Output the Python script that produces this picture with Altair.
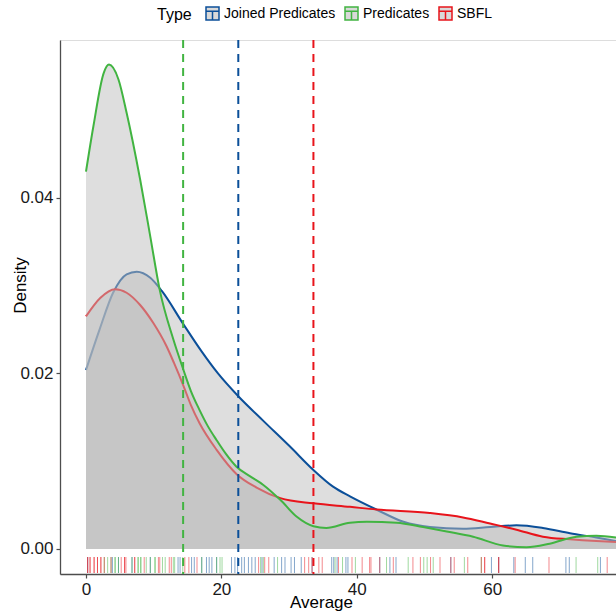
import altair as alt
import pandas as pd

types = ["Joined Predicates", "Predicates", "SBFL"]
colors = ["#0B4F99", "#41B441", "#E8141B"]

# density curves
joined_x = [0, 2, 4, 6, 7.5, 9.5, 11.2, 14.4, 17.0, 19.5, 22.5, 26.2, 30.1, 33.6, 36.5, 39, 42.9, 46.9, 50.8, 55.7, 59.7, 63.6, 67.5, 71.5, 75.4, 78.3]
joined_y = [0.0204, 0.0250, 0.0292, 0.0313, 0.0316, 0.0309, 0.0294, 0.0256, 0.0226, 0.0200, 0.0174, 0.0146, 0.0117, 0.0090, 0.0071, 0.0060, 0.0045, 0.0031, 0.0025, 0.0023, 0.0025, 0.0027, 0.0024, 0.0018, 0.0013, 0.0009]

pred_x = [0, 1.1, 2.6, 3.4, 4.8, 6.0, 8.0, 9.5, 10.9, 12.9, 14.4, 15.5, 16.8, 18.0, 19.3, 20.7, 22.2, 24.2, 26.2, 28.7, 31.1, 33.6, 35.5, 39, 41.5, 45.9, 49.8, 53.3, 57.2, 61.6, 65.1, 68.5, 72.5, 75.4, 78.3]
pred_y = [0.0430, 0.0482, 0.0542, 0.0552, 0.0535, 0.0497, 0.0421, 0.0356, 0.0295, 0.0239, 0.0204, 0.0180, 0.0158, 0.0140, 0.0124, 0.0108, 0.0094, 0.0083, 0.0073, 0.0056, 0.0037, 0.0026, 0.0024, 0.0030, 0.0031, 0.0030, 0.0025, 0.0020, 0.0014, 0.0004, 0.0002, 0.0006, 0.0014, 0.0015, 0.0013]

sbfl_x = [0, 2.1, 4.3, 6.0, 8.0, 9.9, 11.9, 13.0, 14.4, 15.5, 16.8, 19.3, 22.3, 25.2, 28.7, 33.6, 39, 42.9, 50.8, 55.7, 59.7, 63.6, 67.5, 71.5, 75.4, 78.3]
sbfl_y = [0.0265, 0.0286, 0.0296, 0.0292, 0.0278, 0.0258, 0.0231, 0.0212, 0.0186, 0.0164, 0.0143, 0.0113, 0.0085, 0.0070, 0.0058, 0.0052, 0.0048, 0.0045, 0.0041, 0.0036, 0.0029, 0.0022, 0.0014, 0.0011, 0.0009, 0.0008]

# group means (dashed lines)
means = [22.5, 14.35, 33.6]

# rug values (visible range)
rug_joined = [0.25, 3.9, 4.8, 6.8, 9.5, 13.6, 13.9, 15.6, 16.0, 17.1, 17.8, 18.2, 18.6, 19.3, 21.5, 22.0, 22.4, 23.0, 23.4, 24.0, 24.5, 25.0, 26.0, 27.8, 28.9, 29.4, 30.3, 30.8, 31.8, 33.4, 36.3, 36.6, 37.1, 38.4, 38.7, 43.4, 44.9, 45.8, 53.9, 59.9, 60.97, 63.2, 64.9, 66.0, 70.9, 71.4, 76.0]
rug_pred = [2.7, 3.2, 3.7, 4.3, 4.3, 4.8, 6.8, 7.7, 7.7, 8.1, 8.1, 8.9, 9.5, 10.2, 10.2, 11.3, 11.7, 12.9, 13.1, 14.3, 17.1, 19.3, 19.8, 20.1, 25.8, 26.2, 28.3, 36.8, 37.9, 39.8, 44.4, 47.6, 49.9, 50.4, 51.3, 55.9, 58.4, 72.4, 75.6]
rug_sbfl = [0.25, 0.25, 0.6, 0.6, 1.2, 1.2, 1.7, 1.7, 2.2, 2.2, 2.7, 3.7, 5.2, 5.7, 5.7, 5.9, 7.2, 7.2, 8.6, 10.7, 10.9, 12.3, 12.6, 14.6, 15.2, 16.4, 25.5, 26.4, 27.0, 32.3, 32.9, 33.4, 34.4, 34.9, 37.3, 39.3, 40.8, 41.9, 42.1, 43.4, 45.4, 48.3, 49.4, 50.9, 52.3, 53.9, 54.4, 56.4, 58.4, 58.9, 58.9, 60.97, 60.97, 63.4, 68.4, 77.0]

curve_x = {"Joined Predicates": joined_x, "Predicates": pred_x, "SBFL": sbfl_x}
curve_y = {"Joined Predicates": joined_y, "Predicates": pred_y, "SBFL": sbfl_y}
rugs = {"Joined Predicates": rug_joined, "Predicates": rug_pred, "SBFL": rug_sbfl}

curves = pd.concat([pd.DataFrame({"Average": curve_x[t], "Density": curve_y[t], "Type": t}) for t in types])
rug_df = pd.concat([pd.DataFrame({"Average": rugs[t], "Type": t}) for t in types])
mean_df = pd.DataFrame({"Average": means, "Type": types})

x_scale = alt.Scale(domain=[-3.84, 78.3], nice=False, zero=False)
y_scale = alt.Scale(domain=[-0.00285, 0.058], nice=False, zero=False)
color_scale = alt.Scale(domain=types, range=colors)

key_path = "M-1,-1H1V1H-1Z M-1,-0.35H1 M0,-0.35V1"

x_enc = alt.X("Average:Q", scale=x_scale,
              axis=alt.Axis(values=[0, 20, 40, 60], title="Average", titleX=261, titleY=20,
                            titleAnchor="middle"))
y_enc = alt.Y("Density:Q", scale=y_scale,
              axis=alt.Axis(values=[0, 0.02, 0.04], format=".2f", title="Density",
                            titleX=-40, titleY=245, titleBaseline="middle", titleAnchor="middle"))

layers = []
draw_order = ["Joined Predicates", "SBFL", "Predicates"]
for i, t in enumerate(draw_order):
    sub = curves[curves["Type"] == t]
    area = alt.Chart(sub).mark_area(color="#BEBEBE", opacity=0.5, clip=True,
                                    interpolate="monotone").encode(
        x=x_enc, y=y_enc, y2=alt.datum(0))
    line = alt.Chart(sub).mark_line(strokeWidth=2, interpolate="monotone", clip=True).encode(
        x=x_enc, y=y_enc,
        color=alt.Color("Type:N", scale=color_scale,
                        legend=alt.Legend(title="Type", orient="none", legendX=97, legendY=-34,
                                          direction="horizontal", titleOrient="left",
                                          symbolType=key_path, symbolSize=169,
                                          symbolFillColor="#d9d9d9", symbolStrokeWidth=1.5,
                                          columnPadding=6, labelOffset=4,
                                          titleFontSize=16, labelFontSize=14,
                                          titleFontWeight="normal", titleColor="#000",
                                          labelColor="#000", titlePadding=13)
                        if i == 0 else None))
    layers += [area, line]

rug = alt.Chart(rug_df).mark_rule(strokeWidth=1, opacity=0.5, clip=True).encode(
    x=alt.X("Average:Q", scale=x_scale),
    y=alt.value(517), y2=alt.value(533),
    color=alt.Color("Type:N", scale=color_scale, legend=None))

vlines = alt.Chart(mean_df).mark_rule(strokeWidth=2, strokeDash=[8, 6]).encode(
    x=alt.X("Average:Q", scale=x_scale),
    color=alt.Color("Type:N", scale=color_scale, legend=None))

chart = alt.layer(*layers, rug, vlines).properties(
    width=556, height=534,
    autosize=alt.AutoSizeParams(type="none"),
    padding={"left": 60, "top": 40, "right": 0, "bottom": 41},
).configure_view(stroke=None).configure(
    font="Liberation Sans"
).configure_axis(
    grid=False, labelFontSize=17, labelColor="#1a1a1a", titleFontSize=17,
    titleFontWeight="normal", titleColor="#000", tickSize=4, tickColor="#4d4d4d",
    domainColor="#4d4d4d", domainWidth=1.3, tickWidth=1.2, labelPadding=3
)

chart.save("out.html", embed_options={"renderer": "svg", "actions": False})
